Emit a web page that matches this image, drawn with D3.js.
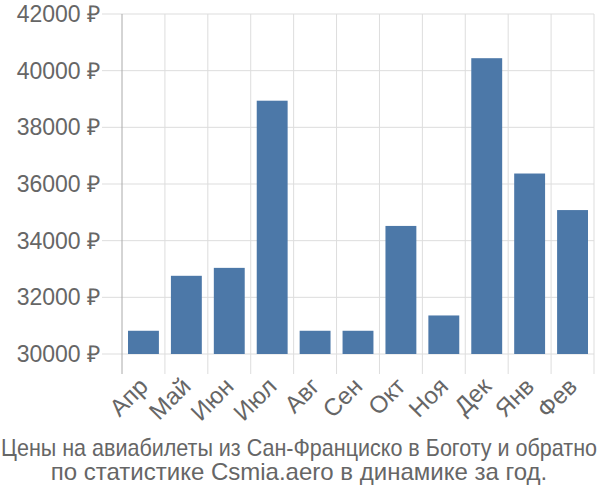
<!DOCTYPE html>
<html><head><meta charset="utf-8">
<script src="https://cdn.jsdelivr.net/npm/d3@7"></script>
<style>body{margin:0;background:#fff;font-family:"Liberation Sans",Arial,sans-serif;}</style>
</head><body><svg id="c" width="600" height="500"></svg>
<script>
const categories = ["Апр","Май","Июн","Июл","Авг","Сен","Окт","Ноя","Дек","Янв","Фев"];
const values = [30820, 32760, 33040, 38940, 30820, 30820, 34520, 31360, 40440, 36370, 35080];
const yTicks = [30000, 32000, 34000, 36000, 38000, 40000, 42000];
const titleLines = ["Цены на авиабилеты из Сан-Франциско в Боготу и обратно", "по статистике Csmia.aero в динамике за год."];

(function(){
const svg = d3.select("#c");
const L = 122, R = 594, T = 14, B = 354;
const x = d3.scaleBand().domain(categories).range([L, R]).paddingInner(0.28).paddingOuter(0.14);
const y = d3.scaleLinear().domain([30000, 42000]).range([B, T]);

svg.append("g").selectAll("line").data(yTicks).join("line")
  .attr("x1", 102).attr("x2", R).attr("y1", d => y(d)).attr("y2", d => y(d))
  .attr("stroke", "#ddd").attr("stroke-width", 1);
const bounds = categories.map(c => x(c) - x.step()*x.paddingInner()/2);
bounds.push(R);
svg.append("g").selectAll("line").data(bounds.slice(1)).join("line")
  .attr("x1", d => d).attr("x2", d => d).attr("y1", T).attr("y2", 374)
  .attr("stroke", "#ddd").attr("stroke-width", 1);
svg.append("line").attr("x1", L).attr("x2", L).attr("y1", T).attr("y2", 374)
  .attr("stroke", "#aaa").attr("stroke-width", 1);

svg.append("g").selectAll("text").data(yTicks).join("text")
  .attr("x", 100).attr("y", d => y(d)).attr("dy", "0.35em").attr("text-anchor", "end")
  .attr("fill", "#666").attr("font-size", 23).text(d => d + " ₽");

svg.append("g").selectAll("rect").data(values).join("rect")
  .attr("x", (d, i) => x(categories[i])).attr("width", x.bandwidth())
  .attr("y", d => y(d)).attr("height", d => y(30000) - y(d))
  .attr("fill", "#4c78a8");

svg.append("g").selectAll("text").data(categories).join("text")
  .attr("transform", d => `translate(${x(d) + x.bandwidth()/2 - 6},${376}) rotate(-45)`)
  .attr("text-anchor", "end").attr("dy", "0.7em")
  .attr("fill", "#666").attr("font-size", 24).text(d => d);

svg.append("g").selectAll("text").data(titleLines).join("text")
  .attr("x", 299).attr("y", (d, i) => 456 + i * 24).attr("text-anchor", "middle")
  .attr("fill", "#666").attr("font-size", 24).text(d => d)
  .each(function(){ if (this.getComputedTextLength() > 596) { d3.select(this).attr("textLength", 596).attr("lengthAdjust", "spacingAndGlyphs"); } });
})();
</script></body></html>
